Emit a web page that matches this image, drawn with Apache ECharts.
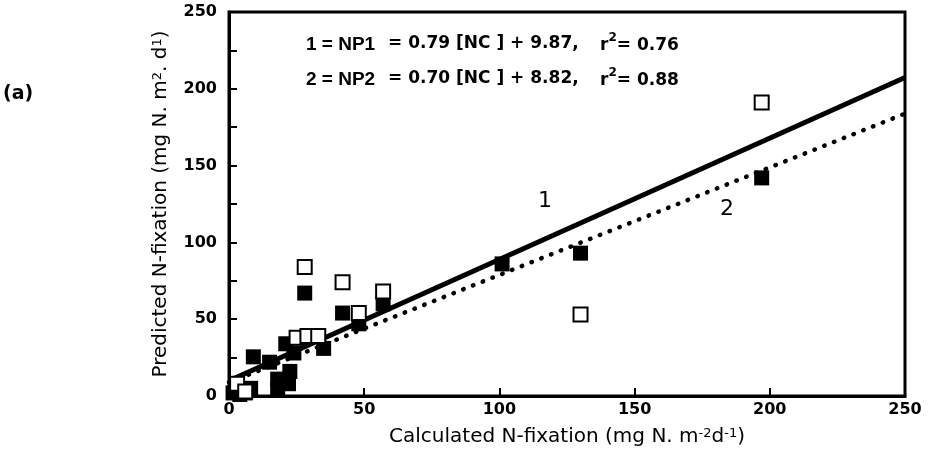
<!DOCTYPE html>
<html>
<head>
<meta charset="utf-8">
<script src="https://cdn.jsdelivr.net/npm/echarts@6/dist/echarts.min.js"></script>
<style>
  html, body { margin: 0; padding: 0; background: #fff; }
  #chart { width: 928px; height: 462px; }
</style>
</head>
<body>
<div id="chart"></div>
<script>
// Axis ticks
const xTicks = [0, 50, 100, 150, 200, 250];
const yTicks = [0, 50, 100, 150, 200, 250];

// NP1 predictions (open squares) vs calculated N-fixation
const np1Calc = [3, 6, 25, 29, 33, 28, 42, 48, 57, 130, 197];
const np1Pred = [8, 3, 38, 39, 39, 84, 74, 54, 68, 53, 191];

// NP2 predictions (filled squares) vs calculated N-fixation
const np2Calc = [1.5, 4, 3, 6, 8, 9, 15, 18, 18, 22, 21, 22.5, 24, 28, 35, 42, 48, 57, 101, 130, 197];
const np2Pred = [2, 1, 5, 2, 5, 25.5, 22, 4, 11, 8, 34, 16, 28, 67, 31, 54, 47, 60, 86, 93, 142];

// Regression fits: [slope, intercept, r2]
const fit1 = [0.79, 9.87, 0.76];
const fit2 = [0.70, 8.82, 0.88];

const FONT = '"DejaVu Sans", Verdana, sans-serif';
const NARROW = '"Liberation Sans", Arial, sans-serif';
const xMin = xTicks[0], xMax = xTicks[xTicks.length - 1];

const pairs = (xs, ys) => xs.map((x, i) => [x, ys[i]]);
const fitLine = f => [[xMin, f[1] + f[0] * xMin], [xMax, f[1] + f[0] * xMax]];

const chart = echarts.init(document.getElementById('chart'), null, { renderer: 'canvas' });

const eqRich = {
  n: { fontFamily: FONT, fontWeight: 'bold', fontSize: 17, lineHeight: 22, verticalAlign: 'bottom', color: '#000' },
  s: { fontFamily: FONT, fontWeight: 'bold', fontSize: 12, lineHeight: 22, verticalAlign: 'top', color: '#000' }
};

function eqTexts(idx, f, top) {
  return [
    { type: 'text', left: 306, top: top - 1, style: { text: idx + ' = NP' + idx, font: 'bold 19px ' + NARROW, fill: '#000' } },
    { type: 'text', left: 388, top: top - 1, style: { text: '= ' + f[0].toFixed(2) + ' [NC ] + ' + f[1].toFixed(2) + ',', font: 'bold 17px ' + FONT, fill: '#000' } },
    { type: 'text', left: 600, top: top - 4, style: { text: '{n|r}{s|2}{n|= ' + f[2].toFixed(2) + '}', rich: eqRich } }
  ];
}

const nameRich = { s: { fontFamily: FONT, fontSize: 13, verticalAlign: 'top', lineHeight: 13, color: '#000' } };

const option = {
  animation: false,
  backgroundColor: '#fff',
  grid: { left: 229, right: 23, top: 12, bottom: 66, show: true, borderColor: '#000', borderWidth: 3, backgroundColor: 'transparent' },
  xAxis: {
    type: 'value', min: xMin, max: xMax, interval: 50,
    name: 'Calculated N-fixation (mg N. m{s|-2}d{s|-1})',
    nameLocation: 'middle', nameGap: 31,
    nameTextStyle: { fontFamily: FONT, fontSize: 20, color: '#000', rich: nameRich },
    axisLine: { lineStyle: { color: '#000', width: 3 } },
    axisTick: { inside: true, length: 8, lineStyle: { color: '#000', width: 2 } },
    axisLabel: { fontFamily: FONT, fontWeight: 'bold', fontSize: 16, color: '#000', margin: 6 },
    splitLine: { show: false }
  },
  yAxis: {
    type: 'value', min: yTicks[0], max: yTicks[yTicks.length - 1], interval: 25,
    name: 'Predicted N-fixation (mg N. m{s|2}. d{s|1})',
    nameLocation: 'middle', nameGap: 58,
    nameTextStyle: { fontFamily: FONT, fontSize: 20, color: '#000', rich: nameRich },
    axisLine: { lineStyle: { color: '#000', width: 3 } },
    axisTick: { inside: true, length: 8, lineStyle: { color: '#000', width: 2 } },
    axisLabel: {
      fontFamily: FONT, fontWeight: 'bold', fontSize: 16, color: '#000', margin: 12,
      formatter: v => (yTicks.indexOf(v) >= 0 ? String(v) : '')
    },
    splitLine: { show: false }
  },
  series: [
    {
      name: 'NP2', type: 'scatter', z: 2,
      symbol: 'rect', symbolSize: 15,
      itemStyle: { color: '#000', opacity: 1 },
      data: pairs(np2Calc, np2Pred)
    },
    {
      name: 'NP2 fit', type: 'line', z: 3, symbol: 'none',
      lineStyle: { color: '#000', width: 4.5, type: [0.5, 10], cap: 'round' },
      data: fitLine(fit2)
    },
    {
      name: 'NP1 fit', type: 'line', z: 3, symbol: 'none',
      lineStyle: { color: '#000', width: 5 },
      data: fitLine(fit1)
    },
    {
      name: 'NP1', type: 'scatter', z: 4,
      symbol: 'rect', symbolSize: 14,
      itemStyle: { color: '#fff', borderColor: '#000', borderWidth: 2, opacity: 1 },
      data: pairs(np1Calc, np1Pred)
    }
  ],
  graphic: [
    { type: 'text', left: 3, top: 85, style: { text: '(a)', font: 'bold 19px ' + FONT, fill: '#000' } },
    ...eqTexts(1, fit1, 36),
    ...eqTexts(2, fit2, 71),
    { type: 'text', left: 538, top: 190, style: { text: '1', font: '22px ' + FONT, fill: '#000' } },
    { type: 'text', left: 720, top: 198, style: { text: '2', font: '22px ' + FONT, fill: '#000' } }
  ]
};

chart.setOption(option);
</script>
</body>
</html>
